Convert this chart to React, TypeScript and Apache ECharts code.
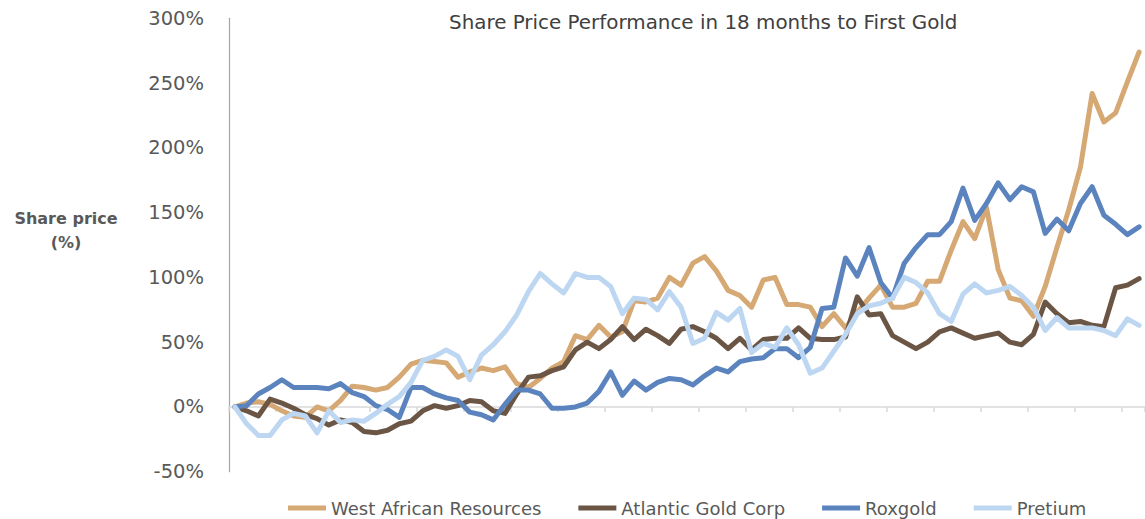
import React, { useEffect, useRef } from "react";
import * as echarts from "echarts";

const seriesNames = ["West African Resources", "Atlantic Gold Corp", "Roxgold", "Pretium"];
const seriesColors = ["#D5A874", "#6B5545", "#5B84BF", "#BDD7F2"];

const westAfrican = [0,3,4,2,-3,-7,-8,0,-3,5,16,15,13,15,23,33,36,35,34,23,27,30,28,31,18,15,22,30,35,55,52,63,54,58,82,81,84,100,94,111,116,105,90,86,77,98,100,79,79,77,62,72,61,73,84,94,77,77,80,97,97,121,143,130,154,106,84,82,70,93,123,152,185,242,220,227,251,274];
const atlanticGold = [0,-3,-7,6,3,-1,-6,-9,-14,-10,-12,-19,-20,-18,-13,-11,-3,1,-1,1,5,4,-3,-5,10,23,24,28,31,44,50,45,52,62,52,60,55,49,60,62,58,53,45,53,44,52,53,53,61,53,52,52,54,85,71,72,55,50,45,50,58,61,57,53,55,57,50,48,56,81,72,65,66,63,62,92,94,99];
const roxgold = [0,1,10,15,21,15,15,15,14,18,11,8,1,-2,-8,15,15,10,7,5,-4,-6,-10,2,13,13,10,-1,-1,0,3,12,27,9,20,13,19,22,21,17,24,30,27,35,37,38,45,45,38,46,76,77,115,101,123,96,84,111,123,133,133,143,169,144,157,173,160,170,166,134,145,136,157,170,148,141,133,139];
const pretium = [0,-13,-22,-22,-10,-5,-7,-20,-3,-12,-10,-11,-5,2,8,19,36,39,44,39,21,40,48,58,71,89,103,95,88,103,100,100,93,72,84,83,75,89,77,49,53,73,67,76,42,49,46,61,48,26,30,43,56,72,78,80,84,100,96,88,72,66,87,95,88,90,93,86,77,59,69,61,61,61,59,55,68,63];

const weeks = westAfrican.map((_, i) => `Week ${i + 1}`);
const yMin = -50;
const yMax = 300;
const yStep = 50;

const FONT = "DejaVu Sans";

export default function App() {
  const ref = useRef<HTMLDivElement>(null);
  useEffect(() => {
    if (!ref.current) return;
    const chart = echarts.init(ref.current, null, { renderer: "svg" });
    const allData = [westAfrican, atlanticGold, roxgold, pretium];
    chart.setOption({
      animation: false,
      backgroundColor: "#ffffff",
      title: {
        text: "Share Price Performance in 18 months to First Gold",
        left: 449,
        top: 12,
        padding: 0,
        textStyle: { fontFamily: FONT, fontSize: 19.9, fontWeight: "normal", color: "#404040" },
      },
      graphic: [
        {
          type: "text",
          x: 66,
          y: 230,
          style: {
            text: "Share price\n(%)",
            fontFamily: FONT,
            fontSize: 16,
            fontWeight: "bold",
            fill: "#595959",
            textAlign: "center",
            textVerticalAlign: "middle",
            lineHeight: 24,
          },
        },
      ],
      legend: {
        left: 288,
        top: 498,
        padding: 0,
        itemGap: 37,
        itemWidth: 38,
        itemHeight: 5,
        icon: "rect",
        textStyle: { fontFamily: FONT, fontSize: 18, color: "#595959", lineHeight: 20 },
        data: seriesNames,
      },
      grid: { left: 229, right: -4, top: 18.3, bottom: 47.3, containLabel: false },
      xAxis: {
        type: "category",
        data: weeks,
        boundaryGap: true,
        axisLine: { onZero: true, lineStyle: { color: "#d9d9d9", width: 1.5 } },
        axisTick: { show: true, interval: 3, length: 5, lineStyle: { color: "#d9d9d9", width: 1.5 } },
        axisLabel: { show: false },
        splitLine: { show: false },
      },
      yAxis: {
        type: "value",
        min: yMin,
        max: yMax,
        interval: yStep,
        axisLine: { show: true, lineStyle: { color: "#a6a6a6", width: 1.2 } },
        axisTick: { show: false },
        splitLine: { show: false },
        axisLabel: {
          formatter: "{value}%",
          margin: 25,
          fontFamily: FONT,
          fontSize: 19.5,
          color: "#595959",
        },
      },
      series: seriesNames.map((name, k) => ({
        name,
        type: "line",
        data: allData[k],
        symbol: "none",
        color: seriesColors[k],
        lineStyle: { width: 5, color: seriesColors[k], cap: "round", join: "round" },
      })),
    });
    return () => chart.dispose();
  }, []);
  return <div ref={ref} style={{ width: 1145, height: 519, position: "absolute", left: 0, top: 0 }} />;
}
